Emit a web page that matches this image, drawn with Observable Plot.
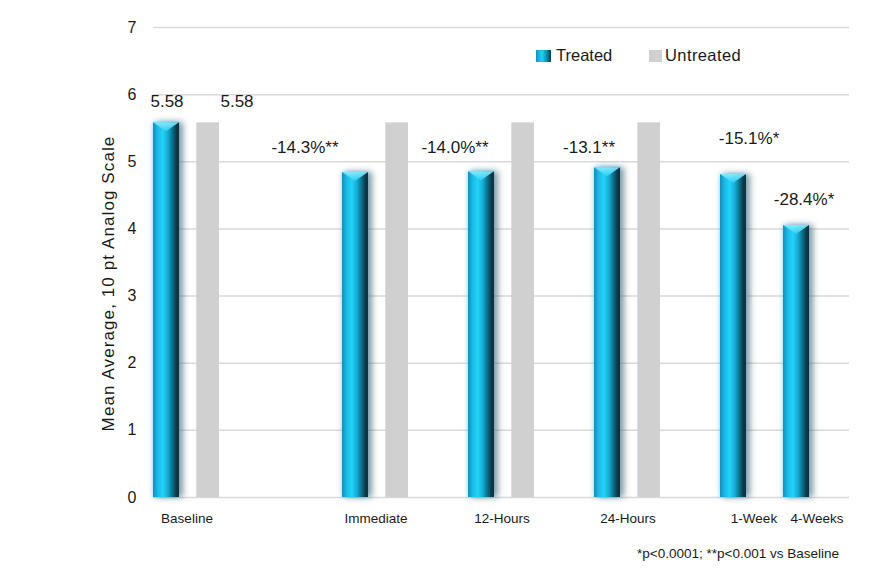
<!DOCTYPE html>
<html>
<head>
<meta charset="utf-8">
<script src="https://cdn.jsdelivr.net/npm/d3@7"></script>
<script src="https://cdn.jsdelivr.net/npm/@observablehq/plot@0.6"></script>
<style>
  html, body { margin: 0; padding: 0; background: #fff; }
  #wrap { position: relative; width: 882px; height: 568px; font-family: 'Liberation Sans', Arial, sans-serif; color: #1a1a1a; }
  #wrap svg { position: absolute; left: 0; top: 0; }
  .legend { position: absolute; top: 46px; font-size: 16.5px; display: flex; align-items: center; }
  .sw { display: inline-block; margin-right: 5px; }
  .caption { position: absolute; right: 43px; top: 546px; font-size: 13.5px; }
</style>
</head>
<body>
<div id="wrap">
  <div class="legend" style="left:536px"><span class="sw" style="width:15px;height:12px;background:linear-gradient(90deg,#1590c0 0%,#22d3f7 40%,#0f8fb3 70%,#0a3a48 100%);"></span>Treated</div>
  <div class="legend" style="left:649px"><span class="sw" style="width:13px;height:12px;background:#d0d0d0;margin-right:3px"></span><span style="letter-spacing:0.4px">Untreated</span></div>
  <div class="caption">*p&lt;0.0001; **p&lt;0.001 vs Baseline</div>
</div>
<script>
// ---- data ----
const slots = ["Baseline", "_s1", "_s2", "Immediate", "_s4", "12-Hours", "_s6", "24-Hours", "_s8", "1-Week", "4-Weeks"];
const categories = ["Baseline", "Immediate", "12-Hours", "24-Hours", "1-Week", "4-Weeks"];
const treatedValues = [5.58, 4.84, 4.85, 4.91, 4.81, 4.05];
const untreatedCategories = ["Baseline", "Immediate", "12-Hours", "24-Hours"];
const untreatedValues = [5.58, 5.58, 5.58, 5.58];
const labelCategories = ["Baseline", "Baseline", "Immediate", "12-Hours", "24-Hours", "1-Week", "4-Weeks"];
const labelSeries = ["Treated", "Untreated", "Treated", "Treated", "Treated", "Treated", "Treated"];
const labelTexts = ["5.58", "5.58", "-14.3%**", "-14.0%**", "-13.1**", "-15.1%*", "-28.4%*"];
const yTicks = [0, 1, 2, 3, 4, 5, 6, 7];
const yTitle = "Mean Average, 10 pt Analog Scale";

// ---- layout nudges for annotation text (style only) ----
const labelNudge = [[-20, -21], [50, -21], [-71, -25], [-47, -24], [-39, -20], [-5, -36], [-13, -26]];

const treated = categories.map((c, i) => ({cat: c, value: treatedValues[i]}));
const untreated = untreatedCategories.map((c, i) => ({cat: c, value: untreatedValues[i]}));
const lookup = {Treated: treated, Untreated: untreated};
const labels = labelTexts.map((t, i) => ({
  cat: labelCategories[i],
  value: lookup[labelSeries[i]].find(d => d.cat === labelCategories[i]).value,
  text: t
}));

const svg = Plot.plot({
  width: 882,
  height: 568,
  marginLeft: 153,
  marginRight: 33,
  marginTop: 27,
  marginBottom: 71,
  style: {fontFamily: "'Liberation Sans', Arial, sans-serif", background: "transparent", color: "#1a1a1a"},
  x: {type: "band", domain: slots, padding: 0, label: null},
  y: {domain: [0, 7], label: null},
  marks: [
    Plot.gridY(yTicks, {stroke: "#d9d9d9", strokeOpacity: 1, strokeWidth: 1.5}),
    Plot.axisY(yTicks, {tickSize: 0, tickPadding: 17, fontSize: 16, label: null, tickFormat: d => String(d)}),
    Plot.axisX(categories, {tickSize: 0, tickPadding: 16, fontSize: 13.5, label: null}),
    Plot.text([yTitle], {frameAnchor: "left", textAnchor: "middle", rotate: -90, dx: -45, dy: 21, fontSize: 17}),
    Plot.barY(untreated, {x: "cat", y: "value", insetLeft: 0, insetRight: 40.3, dx: 41.3, fill: "#d0d0d0"}),
    Plot.barY(treated, {x: "cat", y: "value", insetLeft: 0, insetRight: 37, dx: -2, fill: "url(#tgrad)"}),
    ...labels.map((d, i) => Plot.text([d], {x: "cat", y: "value", text: "text", dx: labelNudge[i][0], dy: labelNudge[i][1], fontSize: 17, fill: "#1a1a1a"}))
  ]
});

const s = d3.select(svg);
s.selectAll("text").filter(function () { return this.textContent === yTitle; }).style("letter-spacing", "1.1px");
s.insert("defs", ":first-child").html(`
  <linearGradient id="tgrad" x1="0" x2="1" y1="0" y2="0">
    <stop offset="0" stop-color="#148cbb"/>
    <stop offset="0.18" stop-color="#1bbbe8"/>
    <stop offset="0.38" stop-color="#22d4f8"/>
    <stop offset="0.58" stop-color="#14a9d2"/>
    <stop offset="0.75" stop-color="#0c6e8a"/>
    <stop offset="0.9" stop-color="#09394a"/>
    <stop offset="1" stop-color="#0b2f3b"/>
  </linearGradient>
  <linearGradient id="topgrad" x1="0" x2="0" y1="0" y2="1">
    <stop offset="0" stop-color="#8cefff"/>
    <stop offset="1" stop-color="#2ad0f5"/>
  </linearGradient>
  <filter id="glow" x="-80%" y="-5%" width="260%" height="110%">
    <feGaussianBlur in="SourceAlpha" stdDeviation="3" result="blur"/>
    <feOffset in="blur" dx="4" dy="0" result="off"/>
    <feFlood flood-color="#24424f" flood-opacity="0.55"/>
    <feComposite in2="off" operator="in" result="shadow"/>
    <feGaussianBlur in="SourceAlpha" stdDeviation="2.5" result="blur2"/>
    <feFlood flood-color="#6cc6ee" flood-opacity="0.75"/>
    <feComposite in2="blur2" operator="in" result="glow"/>
    <feMerge><feMergeNode in="glow"/><feMergeNode in="shadow"/><feMergeNode in="SourceGraphic"/></feMerge>
  </filter>`);

s.selectAll('g[fill="url(#tgrad)"]').each(function () {
  const g = d3.select(this);
  g.attr("filter", "url(#glow)");
  g.selectAll("rect").each(function () {
    const r = d3.select(this);
    const x = +r.attr("x"), y = +r.attr("y"), w = +r.attr("width");
    g.append("polygon")
      .attr("points", `${x},${y} ${x + w},${y} ${x + w * 0.5},${y + 9}`)
      .attr("fill", "url(#topgrad)")
      .attr("opacity", 0.9);
  });
});

document.getElementById("wrap").prepend(svg);
</script>
</body>
</html>
